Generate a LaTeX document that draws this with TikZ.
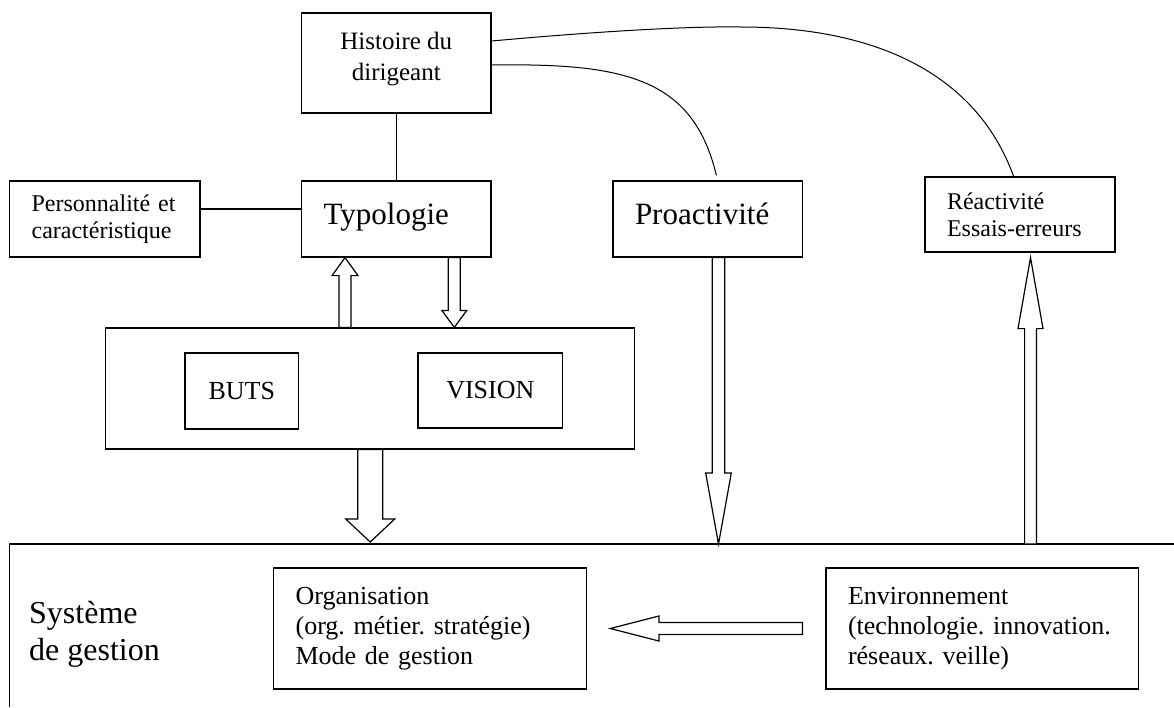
\documentclass[tikz,border=0pt]{standalone}
\usepackage{fontspec}
\setmainfont{Liberation Serif}
\frenchspacing
\newcommand{\flecheblanche}[5][6pt]
	{
	\coordinate (tempd) at ($(#3)!#5!(#2)$);%base de la pointe
	\draw[line width=1.2pt, fill=white] ($(#2)!#1!90:(#3)$) -- ($(tempd)!#1!90:(#3)$) -- ($(tempd)!#4!90:(#3)$) -- (#3) -- ($(tempd)!#4!-90:(#3)$) -- ($(tempd)!#1!-90:(#3)$) -- ($(#2)!#1!-90:(#3)$) -- cycle;
	}
\usetikzlibrary{calc,positioning}

\begin{document}
\begin{tikzpicture}[x=1pt,y=-1pt,
	boite/.style={draw, line width=1.2pt, inner sep=0pt, align=center},
	boiteg/.style={draw, line width=1.2pt, inner xsep=22pt, inner ysep=0pt, align=left},
	lien/.style={line width=1pt}]

\useasboundingbox (0,0) rectangle (1174,707);

% cadres du haut
\node[boite, minimum width=189.4pt, minimum height=100pt, text depth=13pt, font=\fontsize{25}{31}\selectfont] (hist) at (396.3,63) {Histoire du\\dirigeant};
\node[boiteg, text width=146.4pt, minimum height=76pt, font=\fontsize{24}{27}\selectfont] (perso) at (104.8,219) {Personnalité et\\caractéristique};
\node[boiteg, text width=145.4pt, minimum height=76pt, text depth=11pt, font=\fontsize{31}{36}\selectfont] (typo) at (396.3,219) {Typologie};
\node[boiteg, text width=145.4pt, minimum height=76pt, text depth=11pt, font=\fontsize{31}{36}\selectfont] (proa) at (707.7,219) {Proactivité};
\node[boiteg, text width=146pt, minimum height=75pt, font=\fontsize{24}{27}\selectfont] (reac) at (1020,214.5) {Réactivité\\Essais-erreurs};

% buts et vision
\node[draw, line width=1.2pt, minimum width=529.2pt, minimum height=121pt] (cadre) at (370.2,388.5) {};
\node[boite, minimum width=113.5pt, minimum height=76pt, font=\fontsize{26}{30}\selectfont] (buts) at (241.75,391) {BUTS};
\node[boite, minimum width=144.6pt, minimum height=75pt, font=\fontsize{26}{30}\selectfont] (vision) at (490.3,390.5) {VISION};

% systeme de gestion
\coordinate (sysbas) at (9.6,707);
\coordinate (syscoin) at (9.6,544);
\coordinate (sysdroite) at (1174,544);
\draw[line width=1.2pt] (sysbas) -- (syscoin) -- (sysdroite);
\node[anchor=west, align=left, inner sep=0pt, font=\fontsize{32}{37}\selectfont] (sys) at (29,634) {Système\\de gestion};
\node[boiteg, text width=269.1pt, minimum height=121pt, font=\fontsize{26}{30}\selectfont] (org) at (430.15,628.5) {Organisation\\(org. métier. stratégie)\\Mode de gestion};
\node[boiteg, text width=268.8pt, minimum height=121pt, font=\fontsize{26}{30}\selectfont] (env) at (982.4,628.5) {Environnement\\(technologie. innovation.\\réseaux. veille)};

% liens
\coordinate (persoD) at ([yshift=10pt]perso.east);
\draw[line width=1.2pt] (persoD) -- (persoD -| typo.west);
\draw[line width=1.2pt] (hist.south) -- (typo.north);

\coordinate (histA) at ([yshift=22pt]hist.east);
\coordinate (histB) at ([yshift=-2pt]hist.east);
\coordinate (sommet) at (741,27);
\coordinate (reacH) at ([xshift=-6.4pt]reac.north);
\coordinate (proaH) at ([xshift=8.7pt,yshift=5pt]proa.north);
\draw[lien] (histA) .. controls (580,33) and (680,26) .. (sommet) .. controls (870,27) and (975,70) .. (reacH);
\draw[lien] (histB) .. controls (625,63) and (693,78) .. (proaH);

% fleches
\coordinate (f1b) at ([xshift=-51.3pt]typo.south);
\coordinate (f1a) at (f1b |- cadre.north);
\flecheblanche[6pt]{f1a}{f1b}{13pt}{18pt}

\coordinate (f2a) at ([xshift=58pt]typo.south);
\coordinate (f2b) at (f2a |- cadre.north);
\flecheblanche[6pt]{f2a}{f2b}{12.5pt}{17pt}

\coordinate (f3a) at (cadre.south);
\coordinate (f3c) at (cadre.south |- syscoin);
\coordinate (f3b) at ([yshift=2pt]f3c);
\flecheblanche[12.5pt]{f3a}{f3b}{24.5pt}{23pt}

\coordinate (f4a) at ([xshift=10.8pt]proa.south);
\coordinate (f4b) at (f4a |- syscoin);
\flecheblanche[6.3pt]{f4a}{f4b}{12.8pt}{71pt}

\coordinate (f5b) at ([xshift=10.5pt,yshift=-5pt]reac.south);
\coordinate (f5a) at (f5b |- syscoin);
\flecheblanche[5.9pt]{f5a}{f5b}{12.5pt}{71pt}

\coordinate (f6a) at ([xshift=-23pt]env.west);
\coordinate (f6b) at ([xshift=23pt]org.east);
\flecheblanche[6pt]{f6a}{f6b}{12.5pt}{48.6pt}

\end{tikzpicture}
\end{document}
